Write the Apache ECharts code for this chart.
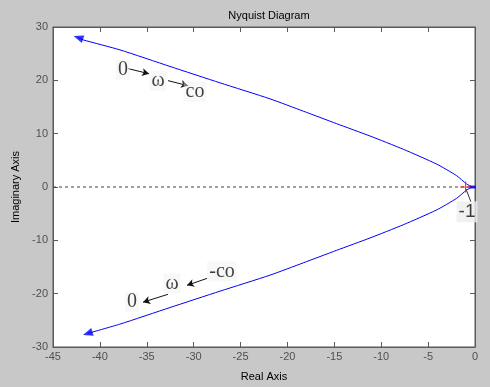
<!DOCTYPE html>
<html><head><meta charset="utf-8">
<script src="https://cdn.jsdelivr.net/npm/echarts@6/dist/echarts.min.js"></script>
<style>html,body{margin:0;padding:0;background:#c8c8c8}#c{width:490px;height:387px}</style>
</head><body><div id="c"></div>
<script>
// Upper branch (omega 0 -> inf)
var upperReal = [-42.3, -41.77, -37.86, -32.52, -27.19, -21.86, -18.31, -14.75, -11.2, -7.65, -4.08, -1.95, -0.89, -0.35];
var upperImag = [28.0, 27.58, 25.71, 22.6, 19.53, 16.53, 14.22, 11.87, 9.56, 7.08, 4.29, 2.11, 0.56, 0.06];
// Lower branch (omega -inf -> 0)
var lowerReal = [-0.35, -0.89, -1.95, -4.08, -7.65, -11.2, -14.75, -18.31, -21.86, -27.19, -32.52, -37.86, -41.3];
var lowerImag = [-0.06, -0.56, -2.11, -4.29, -7.08, -9.56, -11.87, -14.22, -16.53, -19.53, -22.6, -25.71, -27.45];
var xTicks = [-45, -40, -35, -30, -25, -20, -15, -10, -5, 0];
var yTicks = [-30, -20, -10, 0, 10, 20, 30];
var criticalPoint = [-1, 0];
var upperLabels = ['0', 'ω', 'co'];
var upperLabelPos = [[-37.54, 22.0], [-33.8, 19.9], [-29.86, 17.9]];
var upperArrows = [[[-37.0, 22.2], [-34.76, 21.24]], [[-32.74, 19.94], [-30.6, 19.0]]];
var lowerLabels = ['-co', 'ω', '0'];
var lowerLabelPos = [[-26.98, -15.84], [-32.31, -18.07], [-36.58, -21.6]];
var lowerArrows = [[[-28.58, -17.14], [-30.71, -18.44]], [[-32.74, -20.12], [-35.4, -21.6]]];
var minusOneLabel = '-1';
var minusOnePos = [-0.85, -4.66];
var minusOneLeader = [[-0.96, -0.37], [-0.43, -2.8]];

function zip(a, b) { return a.map(function (v, i) { return [v, b[i]]; }); }
var upper = zip(upperReal, upperImag);
var lower = zip(lowerReal, lowerImag);

var chart = echarts.init(document.getElementById('c'));
var axisCol = '#5a5a5a';
var lblStyle = { color: '#505050', fontSize: 11, fontFamily: 'Liberation Sans, Arial, sans-serif' };
var serif = 'Liberation Serif, DejaVu Serif, serif';

function textSeries(labels, pos, bg) {
  return {
    type: 'scatter', symbolSize: 1, itemStyle: { color: 'rgba(0,0,0,0)' }, silent: true, z: 6,
    data: pos.map(function (p, i) { return { value: p, name: labels[i] }; }),
    label: { show: true, position: 'inside', formatter: '{b}', color: '#111', fontSize: 20,
      fontFamily: serif, backgroundColor: bg, padding: [0, 2] }
  };
}
function arrowLines(arr) {
  return arr.map(function (a) { return [{ coord: a[0] }, { coord: a[1] }]; });
}

var upperEnd = upper[0];
var lowerEnd = lower[lower.length - 1];

chart.setOption({
  backgroundColor: '#c8c8c8',
  animation: false,
  title: { text: 'Nyquist Diagram', left: 264, top: 5, textAlign: 'center',
    textStyle: { fontSize: 11, fontWeight: 'normal', color: '#000', fontFamily: 'Liberation Sans, Arial, sans-serif' } },
  grid: { left: 53, right: 15, top: 27, bottom: 38, show: true, backgroundColor: '#fff', borderColor: axisCol, borderWidth: 1 },
  xAxis: [{
    type: 'value', min: xTicks[0], max: xTicks[xTicks.length - 1], interval: 5,
    name: 'Real Axis', nameLocation: 'middle', nameGap: 24,
    nameTextStyle: { color: '#000', fontSize: 11, fontFamily: 'Liberation Sans, Arial, sans-serif' },
    axisLine: { show: true, onZero: false, lineStyle: { color: axisCol } },
    axisTick: { show: true, inside: true, length: 5, lineStyle: { color: axisCol } },
    axisLabel: Object.assign({ margin: 4 }, lblStyle),
    splitLine: { show: false }
  }, {
    type: 'value', position: 'top', min: xTicks[0], max: xTicks[xTicks.length - 1], interval: 5,
    axisLine: { show: true, onZero: false, lineStyle: { color: axisCol } },
    axisTick: { show: true, inside: true, length: 5, lineStyle: { color: axisCol } },
    axisLabel: { show: false }, splitLine: { show: false }
  }],
  yAxis: [{
    type: 'value', min: yTicks[0], max: yTicks[yTicks.length - 1], interval: 10,
    name: 'Imaginary Axis', nameLocation: 'middle', nameGap: 30,
    nameTextStyle: { color: '#000', fontSize: 11, fontFamily: 'Liberation Sans, Arial, sans-serif' },
    axisLine: { show: true, onZero: false, lineStyle: { color: axisCol } },
    axisTick: { show: true, inside: true, length: 5, lineStyle: { color: axisCol } },
    axisLabel: Object.assign({ margin: 5 }, lblStyle),
    splitLine: { show: false }
  }, {
    type: 'value', position: 'right', min: yTicks[0], max: yTicks[yTicks.length - 1], interval: 10,
    axisLine: { show: true, onZero: false, lineStyle: { color: axisCol } },
    axisTick: { show: true, inside: true, length: 5, lineStyle: { color: axisCol } },
    axisLabel: { show: false }, splitLine: { show: false }
  }],
  series: [
    { type: 'line', data: [[xTicks[0], 0], [xTicks[xTicks.length - 1], 0]], symbol: 'none', silent: true,
      lineStyle: { color: '#444', width: 1, type: [3, 3] } },
    { type: 'line', data: upper, symbol: 'none', smooth: 0.2, lineStyle: { color: '#0000ff', width: 1 }, z: 3 },
    { type: 'line', data: lower, symbol: 'none', smooth: 0.2, lineStyle: { color: '#0000ff', width: 1 }, z: 3 },
    { type: 'scatter', z: 4, silent: true,
      data: [
        { value: upperEnd, symbol: 'triangle', symbolSize: [8, 10], symbolRotate: 72 },
        { value: lowerEnd, symbol: 'triangle', symbolSize: [8, 10], symbolRotate: 108 },
        { value: [upper[upper.length - 1][0] + 0.1, 0], symbol: 'rect', symbolSize: [6, 3] }
      ],
      itemStyle: { color: '#0000ff' } },
    { type: 'scatter', z: 5, silent: true, data: [criticalPoint],
      symbol: 'path://M0,4.5h10v1h-10z M4.5,0h1v10h-1z', symbolSize: 11, itemStyle: { color: '#ff0000' } },
    textSeries(upperLabels, upperLabelPos, 'rgba(240,240,240,0.6)'),
    textSeries(lowerLabels, lowerLabelPos, 'rgba(240,240,240,0.6)'),
    { type: 'scatter', symbolSize: 1, itemStyle: { color: 'rgba(0,0,0,0)' }, silent: true, z: 6,
      data: [{ value: minusOnePos, name: minusOneLabel }],
      label: { show: true, position: 'inside', formatter: '{b}', color: '#111', fontSize: 19,
        fontFamily: 'Liberation Sans, Arial, sans-serif', backgroundColor: '#eeeeee', padding: [1, 2] },
      markLine: { silent: true, symbol: 'none', label: { show: false },
        lineStyle: { color: '#333', width: 1, type: 'solid' },
        data: [[{ coord: minusOneLeader[0] }, { coord: minusOneLeader[1] }]] } },
    { type: 'line', data: [], markLine: { silent: true, symbol: ['none', 'arrow'], symbolSize: [6, 7],
        label: { show: false }, lineStyle: { color: '#111', width: 1, type: 'solid' },
        data: arrowLines(upperArrows.concat(lowerArrows)) } }
  ]
});
</script></body></html>
